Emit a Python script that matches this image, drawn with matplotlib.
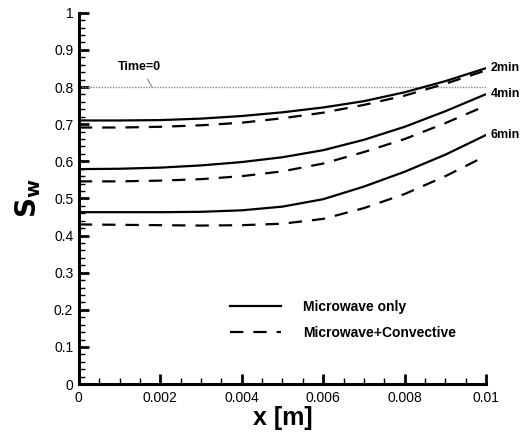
import matplotlib
matplotlib.use("Agg")
import matplotlib.pyplot as plt
from matplotlib.ticker import MultipleLocator, FixedLocator, FixedFormatter
from matplotlib.lines import Line2D

plt.rcParams['font.family'] = ['Liberation Sans', 'DejaVu Sans']

x = [0, 0.001, 0.002, 0.003, 0.004, 0.005, 0.006, 0.007, 0.008, 0.009, 0.01]
mw_2min = [0.710, 0.710, 0.711, 0.715, 0.722, 0.732, 0.745, 0.762, 0.786, 0.816, 0.851]
mwc_2min = [0.691, 0.691, 0.693, 0.697, 0.704, 0.716, 0.731, 0.752, 0.777, 0.809, 0.845]
mw_4min = [0.579, 0.580, 0.583, 0.589, 0.598, 0.611, 0.630, 0.658, 0.693, 0.735, 0.781]
mwc_4min = [0.546, 0.546, 0.548, 0.552, 0.560, 0.573, 0.594, 0.625, 0.660, 0.703, 0.750]
mw_6min = [0.463, 0.463, 0.463, 0.464, 0.468, 0.478, 0.498, 0.532, 0.572, 0.618, 0.671]
mwc_6min = [0.430, 0.429, 0.428, 0.427, 0.428, 0.432, 0.445, 0.474, 0.512, 0.560, 0.615]
time_labels = ["2min", "4min", "6min"]
initial_sw = 0.8
x_ticks = [0, 0.002, 0.004, 0.006, 0.008, 0.01]
x_ticklabels = ["0", "0.002", "0.004", "0.006", "0.008", "0.01"]
y_ticks = [0, 0.1, 0.2, 0.3, 0.4, 0.5, 0.6, 0.7, 0.8, 0.9, 1.0]
y_ticklabels = ["0", "0.1", "0.2", "0.3", "0.4", "0.5", "0.6", "0.7", "0.8", "0.9", "1"]

fig = plt.figure(figsize=(5.29, 4.41), dpi=100)
ax = fig.add_axes([0.149, 0.129, 0.770, 0.842])

ax.plot([x[0], x[-1]], [initial_sw, initial_sw], color='#888888', lw=1.0, ls=(0, (1, 1)))

solids = [mw_2min, mw_4min, mw_6min]
dashes = [mwc_2min, mwc_4min, mwc_6min]
for s, d, lab in zip(solids, dashes, time_labels):
    ax.plot(x, s, color='black', lw=1.6, solid_capstyle='butt')
    ax.plot(x, d, color='black', lw=1.6, ls=(0, (6, 4.5)), dash_capstyle='butt')
    ax.annotate(lab, xy=(x[-1], s[-1]), xytext=(3, 0), textcoords='offset points',
                fontsize=9, fontweight='bold', va='center', ha='left', annotation_clip=False)

ax.annotate("Time=0", xy=(0.0018, initial_sw), xytext=(0.0015, 0.855),
            fontsize=9, fontweight='bold', ha='center', va='center',
            arrowprops=dict(arrowstyle='-', color='#666666', lw=0.6, shrinkA=3, shrinkB=0))

ax.set_xlim(0, 0.01)
ax.set_ylim(0, 1)
ax.xaxis.set_major_locator(FixedLocator(x_ticks))
ax.xaxis.set_major_formatter(FixedFormatter(x_ticklabels))
ax.yaxis.set_major_locator(FixedLocator(y_ticks))
ax.yaxis.set_major_formatter(FixedFormatter(y_ticklabels))
ax.xaxis.set_minor_locator(MultipleLocator(0.0005))
ax.yaxis.set_minor_locator(MultipleLocator(0.02))

for sp in ['top', 'right']:
    ax.spines[sp].set_visible(False)
for sp in ['left', 'bottom']:
    ax.spines[sp].set_linewidth(2.2)

ax.tick_params(which='major', direction='in', length=7, width=2, labelsize=10, pad=4)
ax.tick_params(which='minor', direction='in', length=4, width=1)
ax.tick_params(axis='x', which='major', pad=5)

ax.set_xlabel("x [m]", fontsize=18, fontweight='bold', labelpad=1)
ax.set_ylabel(r"$\mathbf{S}_{\mathbf{w}}$", fontsize=20, labelpad=8)

handles = [Line2D([], [], color='black', lw=1.6),
           Line2D([], [], color='black', lw=1.6, ls=(0, (6, 4.5)))]
ax.legend(handles, ["Microwave only", "Microwave+Convective"], frameon=False,
          loc='upper left', bbox_to_anchor=(0.34, 0.26), prop={'weight': 'bold', 'size': 10},
          handlelength=3.7, handletextpad=1.6, labelspacing=0.85)

fig.savefig("out.png", dpi=100)
